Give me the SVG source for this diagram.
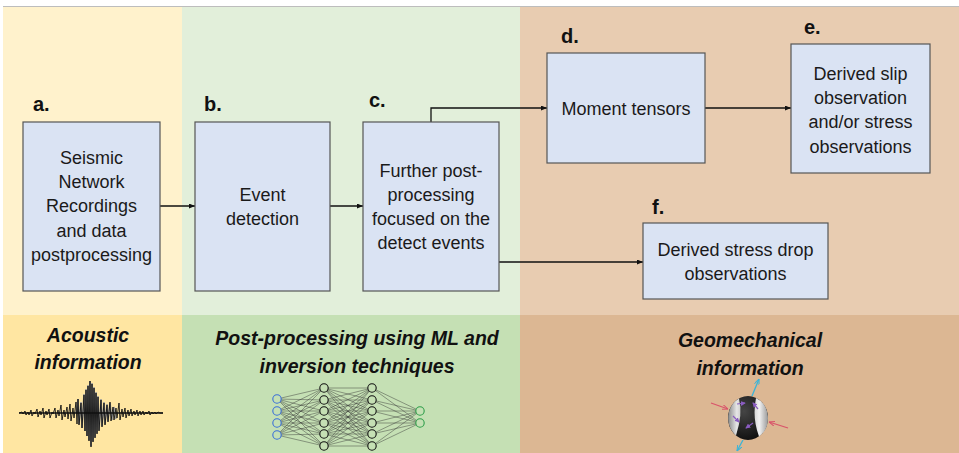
<svg xmlns="http://www.w3.org/2000/svg" width="959" height="453" viewBox="0 0 959 453">
  <style>
    .box { fill: #DAE3F3; stroke: #555; stroke-width: 1.2; }
    .txt { font-family: "Liberation Sans", Arial, sans-serif; font-size: 18px; fill: #1a1a1a; text-anchor: middle; }
    .lbl { font-family: "Liberation Sans", Arial, sans-serif; font-size: 20px; font-weight: bold; fill: #111; }
    .ttl { font-family: "Liberation Sans", Arial, sans-serif; font-size: 19.5px; font-weight: bold; font-style: italic; fill: #111; text-anchor: middle; }
    .conn { fill: none; stroke: #111; stroke-width: 1.3; marker-end: url(#arr); }
    .nnl { fill: none; stroke: #333; stroke-width: 0.6; stroke-opacity: 0.75; }
    .nn { fill: #C5E0B4; stroke-width: 1.1; }
  </style>
  <defs>
    <marker id="arr" viewBox="0 0 6 5" refX="6" refY="2.5" markerWidth="6" markerHeight="5" markerUnits="userSpaceOnUse" orient="auto">
      <path d="M0 0L6 2.5L0 5z" fill="#111"/>
    </marker>
    <marker id="arrBlue" viewBox="0 0 6 5" refX="6" refY="2.5" markerWidth="6" markerHeight="5" markerUnits="userSpaceOnUse" orient="auto">
      <path d="M0 0L6 2.5L0 5" fill="none" stroke="#3AB4D8" stroke-width="1"/>
    </marker>
    <marker id="arrRed" viewBox="0 0 6 5" refX="6" refY="2.5" markerWidth="6" markerHeight="5" markerUnits="userSpaceOnUse" orient="auto">
      <path d="M0 0L6 2.5L0 5" fill="none" stroke="#D9546A" stroke-width="1"/>
    </marker>
    <marker id="arrPur" viewBox="0 0 6 6" refX="5" refY="3" markerWidth="5" markerHeight="5" markerUnits="userSpaceOnUse" orient="auto">
      <path d="M0 0L6 3L0 6z" fill="#8A5CC0"/>
    </marker>
    <radialGradient id="ballDark" cx="0.4" cy="0.35" r="0.7">
      <stop offset="0" stop-color="#454545"/>
      <stop offset="1" stop-color="#0e0e0e"/>
    </radialGradient>
    <linearGradient id="lightL" x1="0" y1="0" x2="1" y2="0">
      <stop offset="0" stop-color="#8a8a8a"/>
      <stop offset="0.7" stop-color="#e6e6e6"/>
      <stop offset="1" stop-color="#cfcfcf"/>
    </linearGradient>
    <linearGradient id="lightR" x1="0" y1="0" x2="1" y2="0">
      <stop offset="0" stop-color="#d8d8d8"/>
      <stop offset="0.35" stop-color="#f2f2f2"/>
      <stop offset="1" stop-color="#9a9a9a"/>
    </linearGradient>
  </defs>

  <!-- background panels -->
  <rect x="0" y="0" width="959" height="453" fill="#ffffff"/>
  <line x1="3" y1="6.5" x2="959" y2="6.5" stroke="#bdbdbd" stroke-width="1"/>
  <rect x="3" y="7" width="179" height="308" fill="#FFF2CC"/>
  <rect x="182" y="7" width="338" height="308" fill="#E2EFDA"/>
  <rect x="520" y="7" width="439" height="308" fill="#E8CCB1"/>
  <rect x="3" y="315" width="179" height="138" fill="#FFE6A2"/>
  <rect x="182" y="315" width="338" height="138" fill="#C5E0B4"/>
  <rect x="520" y="315" width="439" height="138" fill="#DCB793"/>

  <!-- connectors -->
  <g id="connectors">
    <path class="conn" d="M160 206H195"/>
    <path class="conn" d="M330 206H363"/>
    <path class="conn" d="M431 122V108H547"/>
    <path class="conn" d="M705 108H791"/>
    <path class="conn" d="M499 262H643"/>
  </g>

  <!-- nodes -->
  <g id="node-a">
    <text class="lbl" x="33" y="111">a.</text>
    <rect class="box" x="23" y="122" width="137" height="169"/>
    <text class="txt" x="91.5" y="164">Seismic</text>
    <text class="txt" x="91.5" y="188">Network</text>
    <text class="txt" x="91.5" y="212">Recordings</text>
    <text class="txt" x="91.5" y="237">and data</text>
    <text class="txt" x="91.5" y="261">postprocessing</text>
  </g>
  <g id="node-b">
    <text class="lbl" x="204" y="111">b.</text>
    <rect class="box" x="195" y="122" width="135" height="169"/>
    <text class="txt" x="262.5" y="201">Event</text>
    <text class="txt" x="262.5" y="225">detection</text>
  </g>
  <g id="node-c">
    <text class="lbl" x="369" y="107">c.</text>
    <rect class="box" x="363" y="122" width="136" height="169"/>
    <text class="txt" x="431" y="177">Further post-</text>
    <text class="txt" x="431" y="201">processing</text>
    <text class="txt" x="431" y="225">focused on the</text>
    <text class="txt" x="431" y="249">detect events</text>
  </g>
  <g id="node-d">
    <text class="lbl" x="561" y="43">d.</text>
    <rect class="box" x="547" y="53" width="158" height="110"/>
    <text class="txt" x="626" y="115">Moment tensors</text>
  </g>
  <g id="node-e">
    <text class="lbl" x="804" y="34">e.</text>
    <rect class="box" x="791" y="44" width="139" height="129"/>
    <text class="txt" x="860.5" y="80">Derived slip</text>
    <text class="txt" x="860.5" y="104">observation</text>
    <text class="txt" x="860.5" y="128">and/or stress</text>
    <text class="txt" x="860.5" y="153">observations</text>
  </g>
  <g id="node-f">
    <text class="lbl" x="652" y="214">f.</text>
    <rect class="box" x="643" y="223" width="185" height="76"/>
    <text class="txt" x="735.5" y="256">Derived stress drop</text>
    <text class="txt" x="735.5" y="280">observations</text>
  </g>

  <!-- bottom section titles -->
  <g id="title-acoustic">
    <text class="ttl" x="88" y="342">Acoustic</text>
    <text class="ttl" x="88" y="369">information</text>
  </g>
  <g id="title-ml">
    <text class="ttl" x="357" y="345">Post-processing using ML and</text>
    <text class="ttl" x="357" y="373">inversion techniques</text>
  </g>
  <g id="title-geomech">
    <text class="ttl" x="750" y="347">Geomechanical</text>
    <text class="ttl" x="750" y="375">information</text>
  </g>

  <!-- seismogram: spiky trace on a baseline -->
  <g id="seismogram">
    <polyline fill="none" stroke="#9a9a9a" stroke-width="1.6" stroke-linejoin="miter" points="76,413 78,399 79,424 81,402 82,428 84,394 85,431 86,389 87,436 88,385 89,440 90,381 91,446 92,383 93,441 94,387 95,437 96,392 97,433 98,396 99,430 101,399 102,426 104,402 105,424 107,404 108,421 110,403 112,420 114,407 116,419"/>
    <polyline fill="none" stroke="#111" stroke-width="0.9" stroke-linejoin="miter" points="19,413 22,412 23,414 25,411 26,415 28,412 29,415 31,410 32,416 34,412 35,414 37,409 38,417 40,411 41,415 43,408 44,418 46,411 47,415 49,409 50,418 52,412 53,414 55,408 56,418 58,410 59,416 61,405 62,420 64,410 65,417 67,407 68,419 70,404 71,421 73,408 74,418 76,402 77,424 78,399 79,425 81,403 82,428 84,395 85,431 86,390 87,436 88,386 89,441 90,381 91,447 92,384 93,442 94,388 95,438 96,393 97,434 98,397 99,431 101,400 102,427 104,403 105,425 107,405 108,422 110,402 111,421 113,407 114,420 116,408 117,418 119,403 120,420 122,409 123,417 125,408 126,418 128,410 129,416 131,409 132,416 134,411 135,415 137,410 138,416 140,411 141,415 143,411 144,415 146,412 147,414 149,411 150,415 152,412 153,414 155,412 156,414 158,412 160,413 163,413"/>
    <line x1="19" y1="413" x2="163" y2="413" stroke="#111" stroke-width="1.5"/>
  </g>

  <!-- neural network -->
  <g id="neural-net">
    <path class="nnl" d="M277 399L324 388M277 399L324 400M277 399L324 411M277 399L324 423M277 399L324 434M277 399L324 446
      M277 411L324 388M277 411L324 400M277 411L324 411M277 411L324 423M277 411L324 434M277 411L324 446
      M277 423L324 388M277 423L324 400M277 423L324 411M277 423L324 423M277 423L324 434M277 423L324 446
      M277 435L324 388M277 435L324 400M277 435L324 411M277 435L324 423M277 435L324 434M277 435L324 446"/>
    <path class="nnl" d="M324 388L372 388M324 388L372 400M324 388L372 411M324 388L372 423M324 388L372 434M324 388L372 446
      M324 400L372 388M324 400L372 400M324 400L372 411M324 400L372 423M324 400L372 434M324 400L372 446
      M324 411L372 388M324 411L372 400M324 411L372 411M324 411L372 423M324 411L372 434M324 411L372 446
      M324 423L372 388M324 423L372 400M324 423L372 411M324 423L372 423M324 423L372 434M324 423L372 446
      M324 434L372 388M324 434L372 400M324 434L372 411M324 434L372 423M324 434L372 434M324 434L372 446
      M324 446L372 388M324 446L372 400M324 446L372 411M324 446L372 423M324 446L372 434M324 446L372 446"/>
    <path class="nnl" d="M372 388L420 411M372 400L420 411M372 411L420 411M372 423L420 411M372 434L420 411M372 446L420 411
      M372 388L420 423M372 400L420 423M372 411L420 423M372 423L420 423M372 434L420 423M372 446L420 423"/>
    <g stroke="#3A6FD8">
      <circle class="nn" cx="277" cy="399" r="4.2"/>
      <circle class="nn" cx="277" cy="411" r="4.2"/>
      <circle class="nn" cx="277" cy="423" r="4.2"/>
      <circle class="nn" cx="277" cy="435" r="4.2"/>
    </g>
    <g stroke="#111">
      <circle class="nn" cx="324" cy="388" r="4.2"/>
      <circle class="nn" cx="324" cy="400" r="4.2"/>
      <circle class="nn" cx="324" cy="411" r="4.2"/>
      <circle class="nn" cx="324" cy="423" r="4.2"/>
      <circle class="nn" cx="324" cy="434" r="4.2"/>
      <circle class="nn" cx="324" cy="446" r="4.2"/>
      <circle class="nn" cx="372" cy="388" r="4.2"/>
      <circle class="nn" cx="372" cy="400" r="4.2"/>
      <circle class="nn" cx="372" cy="411" r="4.2"/>
      <circle class="nn" cx="372" cy="423" r="4.2"/>
      <circle class="nn" cx="372" cy="434" r="4.2"/>
      <circle class="nn" cx="372" cy="446" r="4.2"/>
    </g>
    <g stroke="#2E9E4A">
      <circle class="nn" cx="420" cy="411" r="4.2"/>
      <circle class="nn" cx="420" cy="423" r="4.2"/>
    </g>
  </g>

  <!-- focal mechanism ball -->
  <g id="beachball">
    <line x1="752" y1="396" x2="759" y2="379" stroke="#3AB4D8" stroke-width="1.3" marker-end="url(#arrBlue)"/>
    <line x1="743" y1="440" x2="737" y2="451" stroke="#3AB4D8" stroke-width="1.3" marker-end="url(#arrBlue)"/>
    <line x1="711" y1="403" x2="728" y2="409" stroke="#D9546A" stroke-width="1.2" marker-end="url(#arrRed)"/>
    <line x1="788" y1="428" x2="769" y2="422" stroke="#D9546A" stroke-width="1.2" marker-end="url(#arrRed)"/>
    <ellipse cx="748" cy="418" rx="20" ry="22" fill="url(#ballDark)"/>
    <path d="M739 398.5A20 22 0 0 0 736 435.5Q743 414 739 398.5Z" fill="url(#lightL)"/>
    <path d="M756 398A20 22 0 0 1 759 436.5Q752 418 756 398Z" fill="url(#lightR)"/>
    <line x1="737" y1="404" x2="745" y2="403" stroke="#8A5CC0" stroke-width="1.2" marker-end="url(#arrPur)"/>
    <line x1="758" y1="409" x2="753" y2="403" stroke="#8A5CC0" stroke-width="1.2" marker-end="url(#arrPur)"/>
    <line x1="733" y1="416" x2="739" y2="422" stroke="#8A5CC0" stroke-width="1.2" marker-end="url(#arrPur)"/>
    <line x1="753" y1="423" x2="746" y2="428" stroke="#8A5CC0" stroke-width="1.2" marker-end="url(#arrPur)"/>
  </g>
</svg>
